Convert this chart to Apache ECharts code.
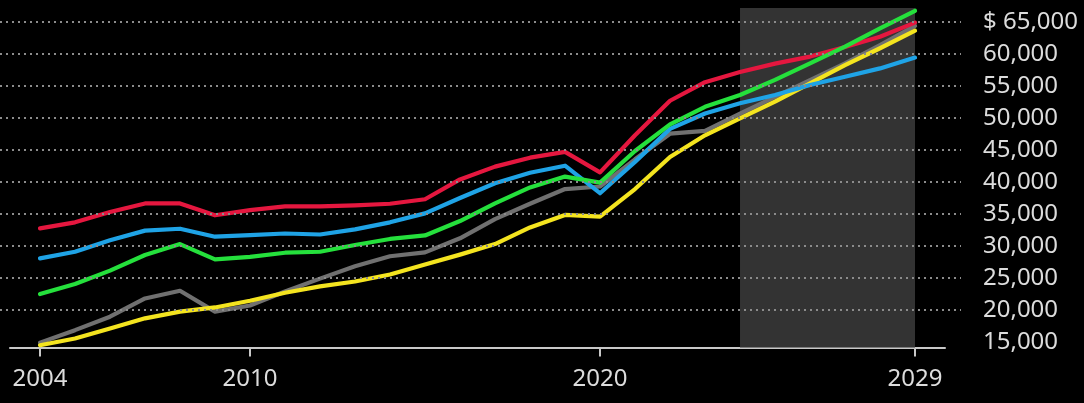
<!DOCTYPE html>
<html>
<head>
<meta charset="utf-8">
<script src="https://cdn.jsdelivr.net/npm/echarts@6/dist/echarts.min.js"></script>
<style>
  html, body { margin: 0; padding: 0; background: #000; }
  #chart { width: 1084px; height: 403px; }
</style>
</head>
<body>
<div id="chart"></div>
<script>
const years = [2004,2005,2006,2007,2008,2009,2010,2011,2012,2013,2014,2015,2016,2017,2018,2019,2020,2021,2022,2023,2024,2025,2026,2027,2028,2029];
const redSeries    = [32760,33700,35300,36650,36650,34800,35600,36200,36200,36350,36600,37300,40400,42400,43800,44700,41500,47300,52700,55600,57200,58500,59600,61100,62700,64900];
const blueSeries   = [28070,29100,30900,32400,32700,31450,31700,31950,31800,32600,33700,35100,37500,39800,41450,42550,38250,43150,48300,50700,52300,53600,55150,56450,57750,59450];
const greenSeries  = [22500,24050,26150,28600,30300,27900,28300,28950,29100,30150,31100,31650,33900,36650,39150,40850,39900,44850,49000,51750,53600,55950,58550,61150,64000,66750];
const graySeries   = [14900,16850,18950,21800,23000,19750,20700,22900,24900,26850,28400,29000,31200,34200,36600,38900,39300,43550,47550,48000,50700,53300,55900,58550,61400,64400];
const yellowSeries = [14500,15550,17100,18700,19750,20400,21450,22700,23700,24450,25550,27100,28650,30300,32900,34850,34600,38900,43900,47300,49950,52550,55400,58250,60900,63650];
const yTicks = [15000,20000,25000,30000,35000,40000,45000,50000,55000,60000,65000];
const gridValues = [20000,25000,30000,35000,40000,45000,50000,55000,60000,65000];
const xTickYears = [2004,2010,2020,2029];
const shadeYears = [2024,2029];

const FONT = 'Noto Sans';
const TXT = '#dcdcdc';

function pairs(arr) { return years.map((y, i) => [y, arr[i]]); }
function lineSeries(name, arr, color) {
  return {
    name, type: 'line', xAxisIndex: 0, yAxisIndex: 0,
    data: pairs(arr), showSymbol: false, symbol: 'none', clip: false,
    lineStyle: { color, width: 4.2, join: 'round', cap: 'round' },
    z: 3
  };
}

const chart = echarts.init(document.getElementById('chart'), null, { renderer: 'canvas' });
chart.setOption({
  backgroundColor: '#000',
  animation: false,
  grid: [
    { left: 0, right: 123, top: 8, bottom: 55.5 },
    { left: 10, right: 139, top: 8, bottom: 55.5 }
  ],
  xAxis: [
    { type: 'value', gridIndex: 0, min: 2002.857, max: 2030.314, show: false, splitLine: { show: false } },
    {
      type: 'value', gridIndex: 1, min: 2003.143, max: 2029.857,
      axisLine: { show: true, lineStyle: { color: '#c8c8c8', width: 2 } },
      axisTick: { show: true, customValues: xTickYears, length: 9, lineStyle: { color: '#c8c8c8', width: 2 } },
      axisLabel: { customValues: xTickYears, color: TXT, fontSize: 24, fontFamily: FONT, margin: 20, formatter: v => String(v) },
      splitLine: { show: false }
    }
  ],
  yAxis: [
    {
      type: 'value', gridIndex: 0, position: 'right', min: 14140, max: 67190,
      axisLine: { show: false }, axisTick: { show: false }, splitLine: { show: false },
      axisLabel: {
        customValues: yTicks, color: TXT, fontSize: 24, fontFamily: FONT, margin: 22,
        formatter: v => (v === yTicks[yTicks.length - 1] ? '$ ' : '') + v.toLocaleString('en-US')
      }
    },
    { type: 'value', gridIndex: 1, show: false, min: 14140, max: 67190, splitLine: { show: false } }
  ],
  series: [
    {
      type: 'line', xAxisIndex: 0, yAxisIndex: 0, data: [], z: -2, silent: true,
      markArea: {
        silent: true,
        itemStyle: { color: '#333333' },
        data: [[{ xAxis: shadeYears[0] }, { xAxis: shadeYears[1] }]]
      }
    },
    {
      type: 'line', xAxisIndex: 0, yAxisIndex: 0, data: [], z: -1, silent: true,
      markLine: {
        silent: true, symbol: 'none', label: { show: false },
        lineStyle: { color: '#8c8c8c', width: 2, type: [2, 4] },
        data: gridValues.map(v => ({ yAxis: v }))
      }
    },
    lineSeries('gray', graySeries, '#707070'),
    lineSeries('yellow', yellowSeries, '#f4e41f'),
    lineSeries('blue', blueSeries, '#1fa3e6'),
    lineSeries('red', redSeries, '#e5173f'),
    lineSeries('green', greenSeries, '#25e03c')
  ]
});
</script>
</body>
</html>
